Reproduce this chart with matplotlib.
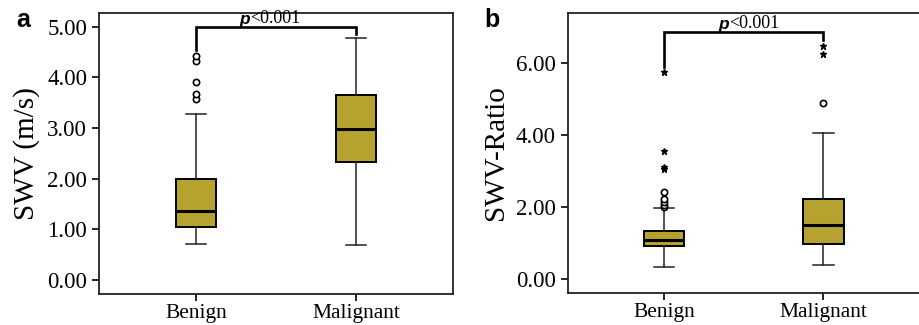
import numpy as np
import matplotlib
matplotlib.use('Agg')
import matplotlib.pyplot as plt

groups = ['Benign', 'Malignant']

# panel a: SWV (m/s)
swv_whislo = [0.70, 0.68]
swv_q1 = [1.05, 2.33]
swv_med = [1.36, 2.98]
swv_q3 = [2.00, 3.65]
swv_whishi = [3.27, 4.78]
swv_circles = [[3.57, 3.67, 3.90, 4.33, 4.43], []]
swv_stars = [[], []]
swv_ticks = [0, 1, 2, 3, 4, 5]

# panel b: SWV-Ratio
ratio_whislo = [0.33, 0.38]
ratio_q1 = [0.90, 0.96]
ratio_med = [1.08, 1.50]
ratio_q3 = [1.32, 2.22]
ratio_whishi = [1.97, 4.06]
ratio_circles = [[1.98, 2.05, 2.12, 2.20, 2.40], [4.88]]
ratio_stars = [[3.05, 3.10, 3.55, 5.75], [6.25, 6.45]]
ratio_ticks = [0, 2, 4, 6]

box_color = '#B6A22E'
serif = ['Liberation Serif', 'DejaVu Serif']


def draw_panel(ax, whislo, q1, med, q3, whishi, circles, stars, ticks, ylim,
               ylabel, bracket, ptext_x, letter):
    stats = []
    for i in range(len(groups)):
        stats.append({'whislo': whislo[i], 'q1': q1[i], 'med': med[i],
                      'q3': q3[i], 'whishi': whishi[i], 'fliers': [],
                      'label': groups[i]})
    pos = np.arange(1, len(groups) + 1)
    ax.bxp(stats, positions=pos, widths=0.255, patch_artist=True,
           showfliers=False,
           boxprops=dict(facecolor=box_color, edgecolor='black', linewidth=1.4),
           medianprops=dict(color='black', linewidth=2.2),
           whiskerprops=dict(color='#222222', linewidth=1.1),
           capprops=dict(color='#222222', linewidth=1.1),
           capwidths=0.13)
    for i, p in enumerate(pos):
        if circles[i]:
            ax.plot([p] * len(circles[i]), circles[i], 'o', mfc='white',
                    mec='black', ms=4.5, mew=1.2, zorder=4)
        if stars[i]:
            ax.plot([p] * len(stars[i]), stars[i], '*', color='black',
                    ms=5, zorder=4)
    y, yl, yr = bracket
    ax.plot([pos[0], pos[0], pos[1], pos[1]], [yl, y, y, yr], color='black',
            lw=1.9, solid_joinstyle='miter', zorder=5)
    ax.text(ptext_x, y, 'p', ha='right', va='bottom', fontsize=12.5,
            fontstyle='italic', fontweight='bold',
            fontfamily=['Liberation Sans', 'DejaVu Sans'])
    ax.text(ptext_x, y, '<0.001', ha='left', va='bottom', fontsize=13,
            fontfamily=serif)
    ax.set_xlim(0.394, 2.606)
    ax.set_ylim(*ylim)
    ax.set_yticks(ticks)
    ax.set_yticklabels(['%.2f' % t for t in ticks], fontfamily=serif,
                       fontsize=16.5)
    ax.set_xticks(pos)
    ax.set_xticklabels(groups, fontfamily=serif, fontsize=15.5)
    ax.set_ylabel(ylabel, fontfamily=serif, fontsize=21, labelpad=5)
    ax.tick_params(direction='out', length=5, width=1.2, colors='black')
    ax.tick_params(axis='x', pad=2.5)
    for s in ax.spines.values():
        s.set_linewidth(1.3)
        s.set_color('#222222')
    ax.figure.text(letter[0], letter[1], letter[2], fontsize=18,
                   fontweight='bold', fontfamily=['Liberation Sans', 'DejaVu Sans'],
                   ha='left', va='top')


fig = plt.figure(figsize=(9.19, 3.25), dpi=100)
ax1 = fig.add_axes([0.1077, 0.0954, 0.3852, 0.8646])
ax2 = fig.add_axes([0.6177, 0.0985, 0.383, 0.8625])

draw_panel(ax1, swv_whislo, swv_q1, swv_med, swv_q3, swv_whishi, swv_circles,
           swv_stars, swv_ticks, (-0.28, 5.27), 'SWV (m/s)',
           (5.0, 4.54, 4.86), 1.34, (0.018, 0.975, 'a'))
draw_panel(ax2, ratio_whislo, ratio_q1, ratio_med, ratio_q3, ratio_whishi,
           ratio_circles, ratio_stars, ratio_ticks, (-0.40, 7.39), 'SWV-Ratio',
           (6.86, 5.89, 6.63), 1.41, (0.527, 0.975, 'b'))

fig.savefig('out.png', dpi=100)
